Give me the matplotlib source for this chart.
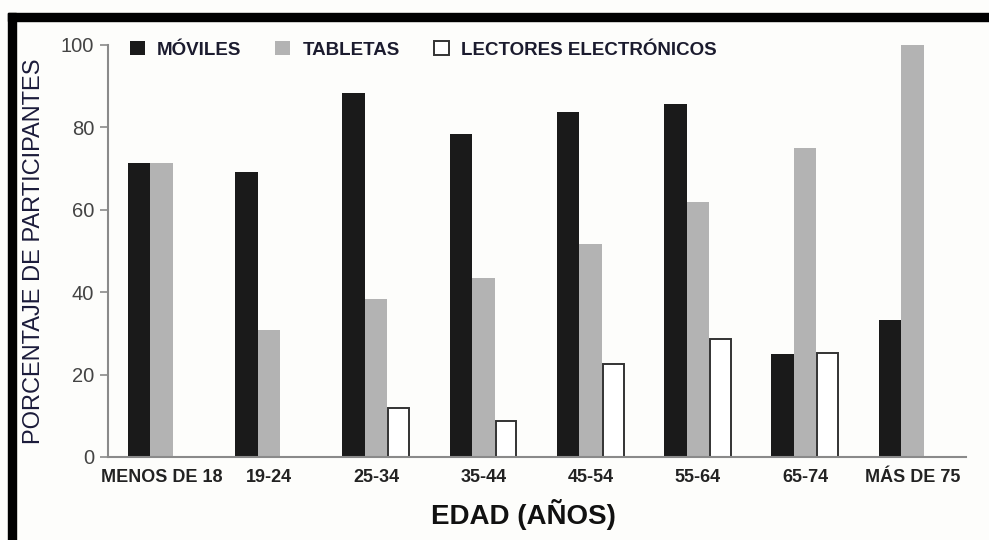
import matplotlib
matplotlib.use('Agg')
import matplotlib.pyplot as plt
import numpy as np
from matplotlib.patches import Rectangle

# survey values (% of participants)
grupos = ['MENOS DE 18', '19-24', '25-34', '35-44', '45-54', '55-64', '65-74', 'MÁS DE 75']
moviles = [71.4, 69.2, 88.3, 78.3, 83.7, 85.7, 25.0, 33.3]
tabletas = [71.4, 30.8, 38.3, 43.4, 51.6, 61.9, 75.0, 100.0]
lectores = [0.0, 0.0, 11.9, 8.7, 22.6, 28.6, 25.2, 0.0]

NEGRO = '#1a1a1a'
GRIS = '#b3b3b3'
EJE = '#8a8a8a'
TEXTO = '#222222'

plt.rcParams['font.family'] = ['Liberation Sans', 'DejaVu Sans']

W, H = 989, 540
fig = plt.figure(figsize=(W / 100, H / 100), dpi=100)
fig.patch.set_facecolor('#fdfdfb')

ax = fig.add_axes([108 / W, 1 - 457 / H, (966 - 108) / W, (457 - 45) / H])
ax.set_facecolor('#fdfdfb')

x = np.arange(len(grupos))
w = 0.21
ax.bar(x - w, moviles, w, color=NEGRO, label='MÓVILES')
ax.bar(x, tabletas, w, color=GRIS, label='TABLETAS')
lect = [v if v > 0 else np.nan for v in lectores]
ax.bar(x + w, lect, w * 0.92, color='white', edgecolor='#333333',
       linewidth=1.4, label='LECTORES ELECTRÓNICOS')

ax.set_xlim(-0.5, 7.5)
ax.set_ylim(0, 100)
ax.set_yticks([0, 20, 40, 60, 80, 100])
ax.set_xticks(x)
ax.set_xticklabels(grupos, fontsize=13, fontweight='bold', color=TEXTO)
ax.tick_params(axis='x', length=0, pad=9)
ax.tick_params(axis='y', length=6, width=1.2, color=EJE, labelsize=14.5,
               labelcolor='#444444', pad=4)

for s in ['top', 'right']:
    ax.spines[s].set_visible(False)
for s in ['left', 'bottom']:
    ax.spines[s].set_color(EJE)
    ax.spines[s].set_linewidth(1.5)

ax.set_ylabel('PORCENTAJE DE PARTICIPANTES', fontsize=17, color='#1b1b3a')
ax.yaxis.set_label_coords(-(108 - 45) / (966 - 108), 0.5)
ax.set_xlabel('EDAD (AÑOS)', fontsize=20, fontweight='bold', color='#111111')
ax.xaxis.set_label_coords((523 - 108) / (966 - 108), -(499 - 457) / (457 - 45))

leg = fig.legend(loc='center left', bbox_to_anchor=(130 / W, 1 - 50 / H),
                 bbox_transform=fig.transFigure, ncol=3, frameon=False,
                 borderpad=0, borderaxespad=0, handlelength=0.8,
                 handleheight=0.7, handletextpad=0.65, columnspacing=1.8,
                 prop={'weight': 'bold', 'size': 13.5})
for t in leg.get_texts():
    t.set_color('#1b1b2e')

# black frame on top and left
fig.patches.append(Rectangle((8 / W, 1 - 21 / H), 1, 8 / H,
                             transform=fig.transFigure, color='black'))
fig.patches.append(Rectangle((8 / W, 0), 8 / W, 1 - 13 / H,
                             transform=fig.transFigure, color='black'))

fig.savefig('out.png', dpi=100, facecolor=fig.get_facecolor())
